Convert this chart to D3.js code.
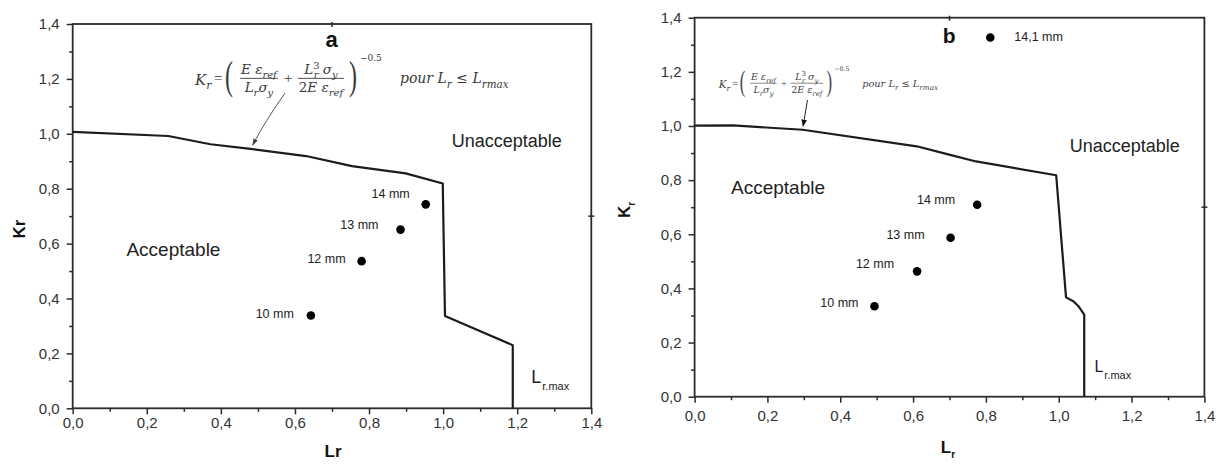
<!DOCTYPE html>
<html><head><meta charset="utf-8">
<script src="https://cdn.jsdelivr.net/npm/d3@7"></script>
<style>
body{margin:0;background:#fff;}
svg{display:block;font-family:"Liberation Sans",Arial,sans-serif;}
</style></head><body>
<svg id="chart" width="1219" height="465"></svg>
<script>
// ---- Panel (a): failure assessment curve and assessed defects ----
const curveA_Lr = [0, 0.258, 0.372, 0.486, 0.630, 0.754, 0.899, 0.999, 1.005, 1.188, 1.188];
const curveA_Kr = [1.007, 0.992, 0.962, 0.944, 0.919, 0.882, 0.856, 0.819, 0.336, 0.230, 0];
const pointsA_label = ["10 mm", "12 mm", "13 mm", "14 mm"];
const pointsA_Lr = [0.643, 0.780, 0.885, 0.953];
const pointsA_Kr = [0.338, 0.536, 0.651, 0.743];

// ---- Panel (b) ----
const curveB_Lr = [0, 0.105, 0.297, 0.610, 0.699, 0.773, 0.993, 1.020, 1.041, 1.056, 1.070, 1.070];
const curveB_Kr = [1.001, 1.002, 0.986, 0.925, 0.894, 0.869, 0.818, 0.367, 0.352, 0.331, 0.303, 0];
const pointsB_label = ["10 mm", "12 mm", "13 mm", "14 mm", "14,1 mm"];
const pointsB_Lr = [0.494, 0.611, 0.703, 0.776, 0.812];
const pointsB_Kr = [0.334, 0.463, 0.587, 0.709, 1.327];

// ---- Axes ----
const majorTicks = [0, 0.2, 0.4, 0.6, 0.8, 1.0, 1.2, 1.4];
const minorTicks = [0.1, 0.3, 0.5, 0.7, 0.9, 1.1, 1.3];
const axisDomain = [0, 1.4];

const fmt = v => d3.format(".1f")(v).replace(".", ",");
const svg = d3.select("#chart");
const INK = "#2b2b2b";
const SERIF = "'DejaVu Serif','Liberation Serif',serif";

// markers for annotation arrows
const defs = svg.append("defs");
defs.append("marker").attr("id", "arrowA").attr("viewBox", "0 0 10 10")
  .attr("refX", 9).attr("refY", 5).attr("markerWidth", 7).attr("markerHeight", 7)
  .attr("markerUnits", "userSpaceOnUse").attr("orient", "auto")
  .append("path").attr("d", "M0,1.5 L10,5 L0,8.5 Z").attr("fill", "#444");
defs.append("marker").attr("id", "arrowB").attr("viewBox", "0 0 10 10")
  .attr("refX", 9).attr("refY", 5).attr("markerWidth", 7).attr("markerHeight", 7)
  .attr("markerUnits", "userSpaceOnUse").attr("orient", "auto")
  .append("path").attr("d", "M0,1 L10,5 L0,9 Z").attr("fill", "#111");

// rich text with sub/superscripts
function rich(text, parts, size) {
  let shift = 0;
  parts.forEach(p => {
    const fs = p.s ? size * 0.74 : size;
    const target = p.s === "sub" ? size * 0.3 : p.s === "sup" ? -size * 0.42 : 0;
    const ts = text.append("tspan").attr("font-size", fs).attr("dy", target - shift)
      .attr("font-style", p.up ? "normal" : "italic").text(p.t);
    if (p.dx) ts.attr("dx", p.dx);
    shift = target;
  });
}

// K_r = ( E e_ref / L_r s_y + L_r^3 s_y / 2E e_ref )^-0.5  pour L_r <= L_rmax
// origin: left edge of K, vertical position of the fraction bars
function drawFormula(g, scale, color) {
  const f = g.append("g").attr("fill", color).attr("transform", `scale(${scale})`)
    .style("font-family", SERIF);
  rich(f.append("text").attr("x", 0).attr("y", 6.5), [{t: "K"}, {t: "r", s: "sub"}], 15);
  f.append("text").attr("x", 19).attr("y", 5).attr("font-size", 15)
    .style("font-family", "'Liberation Serif',serif").text("=");
  const paren = (px, ch) => f.append("text").attr("transform", `translate(${px},11) scale(1,1.7)`)
    .attr("font-size", 24).style("font-family", "'Liberation Serif',serif").text(ch);
  paren(30, "(");
  const frac = (cx, num, den) => {
    const n = f.append("text").attr("x", cx).attr("y", -4).attr("text-anchor", "middle");
    rich(n, num, 13.5);
    const d = f.append("text").attr("x", cx).attr("y", 14).attr("text-anchor", "middle");
    rich(d, den, 13.5);
    const w = Math.max(n.node().getComputedTextLength(), d.node().getComputedTextLength()) + 2;
    f.append("line").attr("x1", cx - w / 2).attr("x2", cx + w / 2).attr("y1", 0).attr("y2", 0)
      .attr("stroke", color).attr("stroke-width", 0.9);
  };
  frac(64, [{t: "E "}, {t: "ε"}, {t: "ref", s: "sub"}],
           [{t: "L"}, {t: "r", s: "sub"}, {t: "σ"}, {t: "y", s: "sub"}]);
  f.append("text").attr("x", 93.3).attr("y", 5).attr("font-size", 15).attr("text-anchor", "middle")
    .style("font-family", "'Liberation Serif',serif").text("+");
  frac(126, [{t: "L"}, {t: "3", s: "sup", up: true}, {t: "r", s: "sub", dx: -6}, {t: " σ"}, {t: "y", s: "sub"}],
            [{t: "2", up: true}, {t: "E "}, {t: "ε"}, {t: "ref", s: "sub"}]);
  paren(154, ")");
  f.append("text").attr("x", 165).attr("y", -17.5).attr("font-size", 9).text("−0.5");
  rich(f.append("text").attr("x", 205).attr("y", 5),
    [{t: "pour L"}, {t: "r", s: "sub"}, {t: " ≤ ", up: true}, {t: "L"}, {t: "rmax", s: "sub"}], 14);
}

function panel(cfg) {
  const x = d3.scaleLinear().domain(axisDomain).range([cfg.left, cfg.right]);
  const y = d3.scaleLinear().domain(axisDomain).range([cfg.bottom, cfg.top]);
  const g = svg.append("g");

  const styleAxis = a => {
    a.select(".domain").remove();
    a.selectAll("line").attr("stroke", INK).attr("stroke-width", 1.5);
    a.selectAll("text").attr("fill", "#333").attr("font-size", 15)
      .style("font-family", "'Liberation Sans',Arial,sans-serif");
  };
  // minor ticks
  g.append("g").attr("transform", `translate(0,${cfg.bottom})`)
    .call(d3.axisBottom(x).tickValues(minorTicks).tickSize(3.5).tickFormat("")).call(styleAxis);
  g.append("g").attr("transform", `translate(${cfg.left},0)`)
    .call(d3.axisLeft(y).tickValues(minorTicks).tickSize(3.5).tickFormat("")).call(styleAxis);
  // major ticks + labels
  g.append("g").attr("transform", `translate(0,${cfg.bottom})`)
    .call(d3.axisBottom(x).tickValues(majorTicks).tickSize(6).tickPadding(cfg.xPad).tickFormat(fmt))
    .call(styleAxis);
  g.append("g").attr("transform", `translate(${cfg.left},0)`)
    .call(d3.axisLeft(y).tickValues(majorTicks).tickSize(6).tickPadding(7).tickFormat(fmt))
    .call(styleAxis);

  // frame
  g.append("rect").attr("x", cfg.left).attr("y", cfg.top)
    .attr("width", cfg.right - cfg.left).attr("height", cfg.bottom - cfg.top)
    .attr("fill", "none").attr("stroke", INK).attr("stroke-width", 1.8);
  // single mid ticks on top and right frames
  g.append("line").attr("x1", x(0.7)).attr("x2", x(0.7)).attr("y1", cfg.top - 2).attr("y2", cfg.top + 3)
    .attr("stroke", INK).attr("stroke-width", 1.5);
  g.append("line").attr("x1", cfg.right - 3).attr("x2", cfg.right + 3).attr("y1", y(0.7)).attr("y2", y(0.7))
    .attr("stroke", INK).attr("stroke-width", 1.5);

  // assessment curve
  const pts = cfg.curveLr.map((v, i) => [v, cfg.curveKr[i]]);
  g.append("path").datum(pts)
    .attr("d", d3.line().x(d => x(d[0])).y(d => y(d[1])))
    .attr("fill", "none").attr("stroke", "#1c1c1c").attr("stroke-width", 2.2)
    .attr("stroke-linejoin", "round");

  // defects
  const data = cfg.labels.map((l, i) => ({l, lr: cfg.ptLr[i], kr: cfg.ptKr[i], off: cfg.labelOff[i]}));
  g.selectAll("circle.pt").data(data).join("circle").attr("class", "pt")
    .attr("cx", d => x(d.lr)).attr("cy", d => y(d.kr)).attr("r", 4.3).attr("fill", "#000");
  g.selectAll("text.pl").data(data).join("text").attr("class", "pl")
    .attr("x", d => x(d.lr) + d.off[0]).attr("y", d => y(d.kr) + d.off[1])
    .attr("dy", "0.35em").attr("text-anchor", d => d.off[0] < 0 ? "end" : "start")
    .attr("font-size", 12.5).attr("fill", "#222").text(d => d.l);

  // region names
  g.append("text").attr("x", x(cfg.unacc[0])).attr("y", y(cfg.unacc[1]))
    .attr("font-size", 18).attr("fill", "#222").text("Unacceptable");
  g.append("text").attr("x", x(cfg.acc[0])).attr("y", y(cfg.acc[1]))
    .attr("font-size", cfg.accSize).attr("fill", "#222").text("Acceptable");
  // L_r.max marker label
  const lm = g.append("text").attr("x", x(cfg.lmax[0])).attr("y", y(cfg.lmax[1])).attr("fill", "#222");
  lm.append("tspan").attr("font-size", cfg.lmaxSize).text("L");
  lm.append("tspan").attr("font-size", 11).attr("dy", 7).attr("dx", 1).text("r.max");

  // panel letter
  g.append("text").attr("x", x(cfg.letterPos[0])).attr("y", y(cfg.letterPos[1]))
    .attr("text-anchor", "middle").attr("font-weight", "bold").attr("font-size", cfg.letterSize)
    .attr("fill", "#111").text(cfg.letter);

  // formula and arrow
  const fg = g.append("g").attr("transform", `translate(${x(cfg.formula[0])},${y(cfg.formula[1])})`);
  drawFormula(fg, cfg.formulaScale, cfg.formulaColor);
  const a0 = [x(cfg.arrow[0][0]), y(cfg.arrow[0][1])];
  const a1 = [x(cfg.arrow[1][0]), y(cfg.arrow[1][1])];
  const mid = [(a0[0] + a1[0]) / 2 - cfg.arrowBow, (a0[1] + a1[1]) / 2 + cfg.arrowBow * 0.6];
  g.append("path").attr("d", `M${a0[0]},${a0[1]} Q${mid[0]},${mid[1]} ${a1[0]},${a1[1]}`)
    .attr("fill", "none").attr("stroke", cfg.arrowColor).attr("stroke-width", cfg.arrowWidth)
    .attr("marker-end", `url(#${cfg.marker})`);

  // axis titles
  const yt = g.append("text").attr("transform", `translate(${cfg.yTitle[0]},${cfg.yTitle[1]}) rotate(-90)`)
    .attr("text-anchor", "middle").attr("font-weight", "bold").attr("font-size", 17).attr("fill", "#111");
  yt.append("tspan").text(cfg.yTitleSub ? "K" : "Kr");
  if (cfg.yTitleSub) yt.append("tspan").attr("font-size", 10).attr("dy", 5).text("r");
  const xt = g.append("text").attr("x", cfg.xTitle[0]).attr("y", cfg.xTitle[1])
    .attr("text-anchor", "middle").attr("font-weight", "bold").attr("font-size", 17).attr("fill", "#111");
  xt.append("tspan").text(cfg.yTitleSub ? "L" : "Lr");
  if (cfg.yTitleSub) xt.append("tspan").attr("font-size", 10).attr("dy", 5).text("r");
}

panel({
  left: 72.7, right: 591.3, top: 24, bottom: 408.3, xPad: 3,
  curveLr: curveA_Lr, curveKr: curveA_Kr,
  labels: pointsA_label, ptLr: pointsA_Lr, ptKr: pointsA_Kr,
  labelOff: [[-17, -2], [-16, -3], [-22, -5], [-16, -11]],
  unacc: [1.023, 0.953], acc: [0.145, 0.555], accSize: 19,
  lmax: [1.238, 0.091], lmaxSize: 18,
  letter: "a", letterPos: [0.699, 1.316], letterSize: 22,
  formula: [0.330, 1.202], formulaScale: 1, formulaColor: "#3a3a3a",
  arrow: [[0.573, 1.148], [0.486, 0.959]], arrowBow: 4, arrowColor: "#555", arrowWidth: 1, marker: "arrowA",
  yTitle: [25, 229], xTitle: [333, 457], yTitleSub: false
});

panel({
  left: 694.6, right: 1204.4, top: 17.7, bottom: 396.7, xPad: 8,
  curveLr: curveB_Lr, curveKr: curveB_Kr,
  labels: pointsB_label, ptLr: pointsB_Lr, ptKr: pointsB_Kr,
  labelOff: [[-16, -4], [-23, -8], [-26, -3], [-22, -5], [24, -1]],
  unacc: [1.030, 0.905], acc: [0.100, 0.749], accSize: 19,
  lmax: [1.098, 0.092], lmaxSize: 16,
  letter: "b", letterPos: [0.699, 1.307], letterSize: 21,
  formula: [0.066, 1.158], formulaScale: 0.7, formulaColor: "#444",
  arrow: [[0.310, 1.096], [0.298, 1.000]], arrowBow: 0, arrowColor: "#222", arrowWidth: 1, marker: "arrowB",
  yTitle: [630, 210], xTitle: [948, 453], yTitleSub: true
});
</script>
</body></html>
